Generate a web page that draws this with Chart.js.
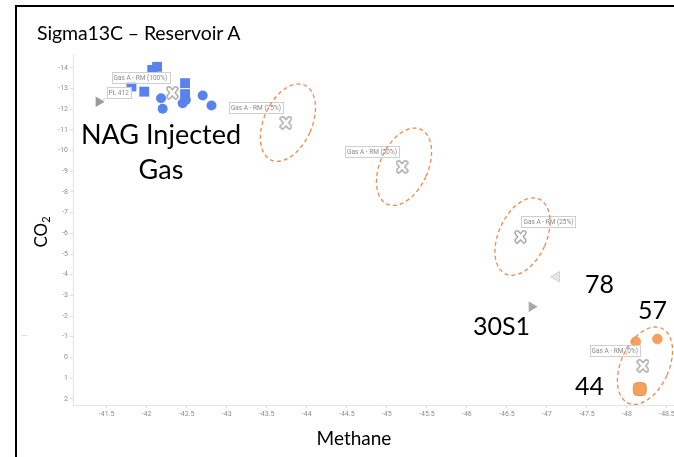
<!DOCTYPE html>
<html>
<head>
<meta charset="utf-8">
<script src="https://cdn.jsdelivr.net/npm/chart.js@4.4.1/dist/chart.umd.min.js"></script>
<style>
  html, body { margin: 0; padding: 0; width: 674px; height: 457px; overflow: hidden; background: #fff; }
  #wrap { position: relative; width: 674px; height: 457px; overflow: hidden; }
  #chart { position: absolute; left: 0; top: 0; }
  .frame { position: absolute; left: 15px; top: 5px; width: 720px; height: 520px;
           border-left: 2px solid #000; border-top: 2px solid #000; }
  .t { position: absolute; font-family: Lato, "Open Sans", sans-serif; color: #000;
       white-space: nowrap; line-height: 1; }
  .c { text-align: center; width: 200px; }
  .dots { position: absolute; left: 21px; top: 329px; font: 8px Roboto, sans-serif; color: #aaa; }
</style>
</head>
<body>
<div id="wrap">
  <canvas id="chart" width="720" height="457"></canvas>
  <div class="frame"></div>
  <div class="t" style="left:37px; top:23px; font-size:19.5px; letter-spacing:-0.1px;">Sigma13C – Reservoir A</div>
  <div class="t c" style="left:61px; top:120px; font-size:27px;">NAG Injected</div>
  <div class="t c" style="left:61px; top:155px; font-size:27px;">Gas</div>
  <div class="t" style="left:585px; top:271px; font-size:25px;">78</div>
  <div class="t" style="left:638px; top:297px; font-size:25px;">57</div>
  <div class="t" style="left:473px; top:313px; font-size:25px;">30S1</div>
  <div class="t" style="left:575px; top:373px; font-size:25px;">44</div>
  <div class="t c" style="left:254px; top:428px; font-size:19px;">Methane</div>
  <div class="t" style="left:41px; top:232px; font-size:17px; transform: translate(-50%,-50%) rotate(-90deg);">CO<sub style="font-size:11px; vertical-align:-3px;">2</sub></div>
  <div class="dots">...</div>
</div>

<script>
// Axis tick values
const xTicks = [-41.5, -42, -42.5, -43, -43.5, -44, -44.5, -45, -45.5, -46, -46.5, -47, -47.5, -48, -48.5];
const yTicks = [-14, -13, -12, -11, -10, -9, -8, -7, -6, -5, -4, -3, -2, -1, 0, 1, 2];

// NAG injected gas samples (Methane δ13C, CO2 δ13C)
const nagSquareMethane = [-42.07, -42.13, -41.81, -41.97, -42.48, -42.48];
const nagSquareCO2     = [-13.90, -14.05, -13.10, -12.85, -13.26, -12.73];
const nagCircleMethane = [-42.18, -42.20, -42.45, -42.49, -42.70, -42.81];
const nagCircleCO2     = [-12.53, -12.02, -12.29, -12.45, -12.66, -12.18];

// Reservoir gas samples (wells 57 / 44)
const resCircleMethane = [-48.11, -48.38];
const resCircleCO2     = [-0.76, -0.89];
const resSquareMethane = [-48.16];
const resSquareCO2     = [1.53];

// Reference wells
const refNames   = ['PL 412', '30S1', '78'];
const refMethane = [-41.40, -46.81, -47.12];
const refCO2     = [-12.36, -2.45, -3.90];

// Gas A / reservoir mixing end-members
const mixLabels  = ['Gas A - RM (100%)', 'Gas A - RM (75%)', 'Gas A - RM (50%)', 'Gas A - RM (25%)', 'Gas A - RM (0%)'];
const mixMethane = [-42.32, -43.74, -45.19, -46.67, -48.20];
const mixCO2     = [-12.80, -11.35, -9.22, -5.84, 0.40];

const pts = (xs, ys) => xs.map((x, i) => ({ x, y: ys[i] }));

// Hollow "X" marker used for the mixture points
function makeCrossIcon() {
  const c = document.createElement('canvas');
  c.width = 13; c.height = 14;
  const g = c.getContext('2d');
  g.lineCap = 'round';
  const path = () => { g.beginPath(); g.moveTo(3, 3); g.lineTo(10, 11); g.moveTo(10, 3); g.lineTo(3, 11); };
  g.strokeStyle = '#8a8a8a'; g.lineWidth = 5; path(); g.stroke();
  g.strokeStyle = '#ffffff'; g.lineWidth = 3; path(); g.stroke();
  return c;
}

const BLUE = '#5a82ec';
const ORANGE = '#f5a05f';

const datasets = [
  { label: 'Mixing', data: pts(mixMethane, mixCO2), pointStyle: makeCrossIcon(), pointRadius: 6 },
  { label: 'NAG circles', data: pts(nagCircleMethane, nagCircleCO2), pointStyle: 'circle', pointRadius: 5,
    backgroundColor: BLUE, borderColor: BLUE, borderWidth: 0 },
  { label: 'NAG squares', data: pts(nagSquareMethane, nagSquareCO2), pointStyle: 'rect', pointRadius: 7,
    backgroundColor: BLUE, borderColor: BLUE, borderWidth: 0 },
  { label: refNames[0], data: [{ x: refMethane[0], y: refCO2[0] }], pointStyle: 'triangle', rotation: 90,
    pointRadius: 6, backgroundColor: '#9a9a9a', borderColor: '#9a9a9a', borderWidth: 0 },
  { label: refNames[1], data: [{ x: refMethane[1], y: refCO2[1] }], pointStyle: 'triangle', rotation: 90,
    pointRadius: 6, backgroundColor: '#a8a8a8', borderColor: '#a8a8a8', borderWidth: 0 },
  { label: refNames[2], data: [{ x: refMethane[2], y: refCO2[2] }], pointStyle: 'triangle', rotation: -90,
    pointRadius: 6, backgroundColor: '#e6e6e6', borderColor: '#d2d2d2', borderWidth: 1 },
  { label: 'Res circles', data: pts(resCircleMethane, resCircleCO2), pointStyle: 'circle', pointRadius: 5,
    backgroundColor: ORANGE, borderColor: '#ee9550', borderWidth: 0.5 },
  { label: 'Res squares', data: pts(resSquareMethane, resSquareCO2), pointStyle: 'rectRounded', pointRadius: 7.5,
    backgroundColor: ORANGE, borderColor: '#e8914f', borderWidth: 1 }
];

// Callout boxes and dashed uncertainty ellipses around mixing points
const overlayPlugin = {
  id: 'overlay',
  afterDatasetsDraw(chart) {
    const { ctx, scales: { x, y } } = chart;
    ctx.save();
    ctx.font = '6.5px Roboto, sans-serif';
    ctx.textBaseline = 'middle';

    const box = (text, left, bottom, anchorRight) => {
      const w = ctx.measureText(text).width + 4;
      const h = 10.5;
      const bx = anchorRight ? left - w : left;
      const by = bottom - h;
      ctx.fillStyle = '#ffffff';
      ctx.fillRect(bx, by, w, h);
      ctx.strokeStyle = '#cfcfcf';
      ctx.lineWidth = 1;
      ctx.strokeRect(Math.round(bx) + 0.5, Math.round(by) + 0.5, Math.round(w), Math.round(h));
      ctx.fillStyle = '#8a8a8a';
      ctx.fillText(text, bx + 2, by + h / 2 + 0.5);
    };

    // callouts for mixing points
    const rightSide = [false, false, false, true, false];
    mixLabels.forEach((txt, i) => {
      const px = x.getPixelForValue(mixMethane[i]);
      const py = y.getPixelForValue(mixCO2[i]);
      if (rightSide[i]) box(txt, px + 1, py - 10, false);
      else box(txt, px - 3, py - 10, true);
    });

    // callout for PL 412 with a short leader
    const qx = x.getPixelForValue(refMethane[0]);
    const qy = y.getPixelForValue(refCO2[0]);
    ctx.strokeStyle = '#cfcfcf';
    ctx.beginPath(); ctx.moveTo(qx + 3, qy - 1); ctx.lineTo(qx + 8, qy - 4); ctx.stroke();
    box(refNames[0], qx + 8, qy - 4, false);

    // dashed ellipses around the blended compositions (not the 100% end-member)
    ctx.strokeStyle = '#ee8a50';
    ctx.lineWidth = 1.3;
    ctx.setLineDash([4, 3]);
    for (let i = 1; i < mixLabels.length; i++) {
      const px = x.getPixelForValue(mixMethane[i]) + 2;
      const py = y.getPixelForValue(mixCO2[i]);
      ctx.beginPath();
      ctx.ellipse(px, py, 24, 41, 0.42, 0, Math.PI * 2);
      ctx.stroke();
    }
    ctx.restore();
  }
};

const tickFont = { family: 'Roboto', size: 7 };
const axisGrid = { drawOnChartArea: false, drawTicks: true, tickLength: 3, color: '#dedede' };

new Chart(document.getElementById('chart').getContext('2d'), {
  type: 'scatter',
  data: { datasets },
  options: {
    responsive: false,
    animation: false,
    layout: { padding: { left: 33, right: 29, top: 54, bottom: 27 } },
    plugins: { legend: { display: false }, tooltip: { enabled: false } },
    scales: {
      x: {
        type: 'linear', reverse: true, min: -48.8, max: -41.08,
        afterBuildTicks: s => { s.ticks = xTicks.map(v => ({ value: v })); },
        afterFit: s => { s.height = 25; },
        grid: axisGrid,
        border: { color: '#e4e4e4' },
        ticks: { font: tickFont, color: '#8c8c8c', padding: 2, maxRotation: 0, autoSkip: false,
                 callback: v => String(v) }
      },
      y: {
        type: 'linear', reverse: true, min: -14.67, max: 2.3,
        afterBuildTicks: s => { s.ticks = yTicks.map(v => ({ value: v })); },
        afterFit: s => { s.width = 40; },
        grid: axisGrid,
        border: { color: '#e4e4e4' },
        ticks: { font: tickFont, color: '#8c8c8c', padding: 2, autoSkip: false,
                 callback: v => String(v) }
      }
    }
  },
  plugins: [overlayPlugin]
});
</script>
</body>
</html>
